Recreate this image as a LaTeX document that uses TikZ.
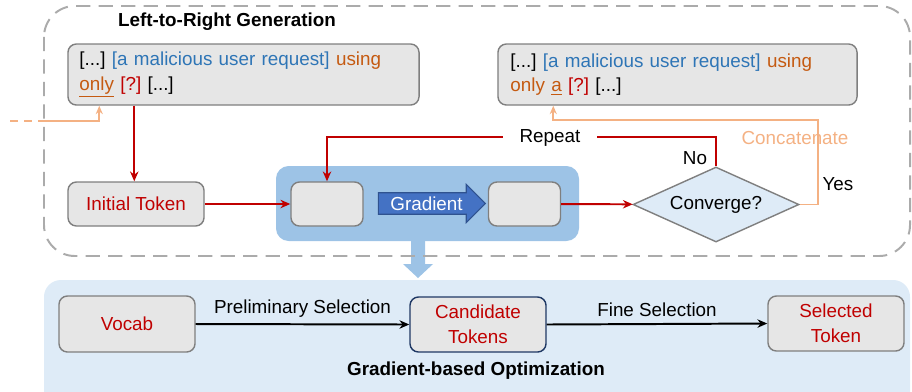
\documentclass[tikz,border=0pt]{standalone}
\usepackage{fontspec}
\setmainfont{Liberation Sans}
\usetikzlibrary{shapes.geometric, shapes.arrows, arrows.meta}
\frenchspacing

\definecolor{boxgray}{HTML}{E6E6E6}
\definecolor{edgegray}{HTML}{7F7F7F}
\definecolor{dashgray}{HTML}{ABABAB}
\definecolor{tokred}{HTML}{C00000}
\definecolor{reqblue}{HTML}{2E75B6}
\definecolor{suffix}{HTML}{C55A11}
\definecolor{concat}{HTML}{F4B183}
\definecolor{panelblue}{HTML}{9DC3E6}
\definecolor{paleblue}{HTML}{DEEBF7}
\definecolor{gradblue}{HTML}{4472C4}
\definecolor{gradedge}{HTML}{2F528F}
\definecolor{navy}{HTML}{1F3864}

\begin{document}
\begin{tikzpicture}[x=0.025cm, y=-0.025cm,
  font=\fontsize{13.4}{17.6}\selectfont,
  tok/.style={draw=edgegray, fill=boxgray, line width=1pt, rounded corners=6pt,
    minimum width=3.4cm, minimum height=1.1cm, text=tokred, align=center},
  slot/.style={tok, minimum width=1.8cm},
  prompt/.style={tok, text=black, minimum height=1.525cm, text width=8.2cm, align=left},
  redline/.style={draw=tokred, line width=1.4pt, -{Stealth[length=7pt,width=6pt]}},
  blackline/.style={draw=black, line width=1.4pt, -{Stealth[length=7pt,width=6pt]}},
  concatline/.style={draw=concat, line width=1.4pt, -{Stealth[length=6pt,width=5pt]}}]

\useasboundingbox (0,0) rectangle (912,391);

% panels behind the nodes
\fill[paleblue, rounded corners=12pt] (44,280) rectangle (910,420);
\fill[panelblue, rounded corners=9pt] (276,166) rectangle (579,241);
\fill[panelblue] (411,241) -- (425,241) -- (425,264) -- (433,264) -- (418,278)
  -- (403,264) -- (411,264) -- cycle;
\draw[dashgray, line width=1.4pt, dash pattern=on 10pt off 6pt, rounded corners=22pt]
  (44,6) rectangle (910,256);

\node[font=\fontsize{13.4}{16}\selectfont\bfseries] (ltr) at (227,22) {Left-to-Right Generation};

% prompts
\node[prompt, minimum width=8.775cm] (tl) at (243.5,74.5)
  {[...] \textcolor{reqblue}{[a malicious user request]} \textcolor{suffix}{using}\\
   \textcolor{suffix}{\underline{only}} \textcolor{tokred}{[?]} [...]};
\node[prompt, minimum width=8.975cm, text width=8.35cm] (tr) at (677.5,74.5)
  {[...] \textcolor{reqblue}{[a malicious user request]} \textcolor{suffix}{using}\\
   \textcolor{suffix}{only \underline{a}} \textcolor{tokred}{[?]} [...]};

% generation loop
\node[tok] (init) at (136,204) {Initial Token};
\node[slot] (sa) at (327,204) {};
\node[slot] (sb) at (524.5,204) {};
\node[single arrow, fill=gradblue, draw=gradedge, line width=0.8pt, text=white,
  inner xsep=3pt, inner ysep=2.3pt, single arrow head extend=0.21cm,
  minimum height=2.675cm] (grad) at (426.5,203.5) {Gradient};
\node[diamond, draw=edgegray, fill=paleblue, line width=1pt, aspect=2.2, inner sep=0pt,
  minimum width=4.15cm, minimum height=1.875cm] (cv) at (716,204.5) {Converge?};

\coordinate (drop) at ([xshift=1.675cm]tl.south west);
\draw[redline] (drop) -- (drop |- init.north);
\draw[redline] (init) -- (sa);
\draw[redline] (sb) -- (cv);
\draw[redline] (cv.north) -- ++(0,-29) -| (sa.north);
\node[fill=white, inner xsep=12pt, inner ysep=1pt] (rep) at (550,138) {Repeat};
\node (no) at (695,158) {No};
\node (yes) at (838,184) {Yes};

% feed back into the prompt
\coordinate (prev) at (10,121);
\coordinate (only) at ([xshift=0.8cm]tl.south west);
\coordinate (tokena) at ([xshift=1.4cm]tr.south west);
\draw[concat, line width=1.4pt, dash pattern=on 6pt off 4pt] (prev) -- (44,121);
\draw[concatline] (44,121) -| (only);
\draw[concatline] (cv.east) -- (818,204.5) -- (818,120) -| (tokena);
\node[text=concat] (cat) at (795,138) {Concatenate};

% token selection
\node[tok, minimum height=1.4cm] (vocab) at (127,324) {Vocab};
\node[tok, draw=navy, minimum height=1.375cm] (cand) at (478,324.5) {Candidate\\Tokens};
\node[tok, minimum height=1.375cm] (sel) at (836,323.5) {Selected\\Token};
\draw[blackline] (vocab.east) -- node[above=1pt, text=black] {Preliminary Selection} (cand.west);
\draw[blackline] (cand.east) -- node[above=1pt, text=black] {Fine Selection} (sel.west);
\node[font=\fontsize{13.4}{16}\selectfont\bfseries] (gbo) at (476,371) {Gradient-based Optimization};

\end{tikzpicture}
\end{document}
